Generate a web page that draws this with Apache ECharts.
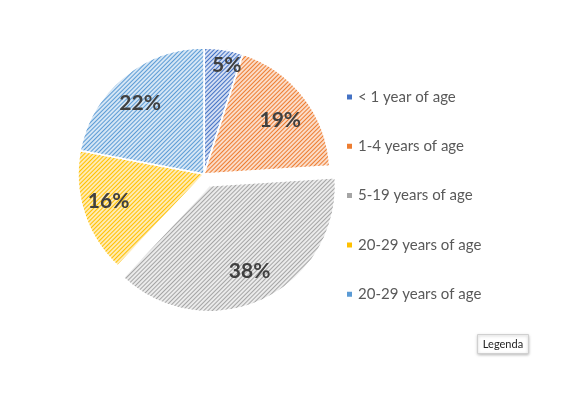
<!DOCTYPE html>
<html><head><meta charset="utf-8">
<script src="https://cdn.jsdelivr.net/npm/echarts@6/dist/echarts.min.js"></script>
<style>html,body{margin:0;padding:0;background:#fff}#c{width:579px;height:394px}</style>
</head><body><div id="c"></div>
<script>
const categories = ['< 1 year of age','1-4 years of age','5-19 years of age','20-29 years of age','20-29 years of age '];
const values = [5, 19, 38, 16, 22];
const colors = ['#4472C4','#ED7D31','#A5A5A5','#FFC000','#5B9BD5'];
const lightColors = ['#d3def3','#fbdcc8','#ebebeb','#ffebb3','#d5e6f5'];
const explodedIndex = 2;
// small label nudges (Excel-like label placement)
const labelNudges = [[8,-16],[2,4],[8,-8],[-6,-2],[-4,2]];

const chart = echarts.init(document.getElementById('c'), null, {renderer:'canvas'});
const C = [204, 174], R = 126;
const data = values.map((v,i)=>({
  name: categories[i], value: v,
  selected: i===explodedIndex,
  itemStyle: {
    color: lightColors[i],
    decal: {symbol:'rect', symbolSize:1, dashArrayX:[1,0], dashArrayY:[1,1.2], rotation: -Math.PI/4, color: colors[i]}
  }
}));
const labelData = values.map((v,i)=>({name: categories[i], value: v, selected: i===explodedIndex, label:{offset: labelNudges[i]}}));
chart.setOption({
  animation:false,
  legend:{
    orient:'vertical', left:345, top:89, padding:0, itemWidth:7, itemHeight:7, icon:'rect', itemGap:33.3,
    textStyle:{fontFamily:'Lato', fontSize:15, color:'#595959', lineHeight:16},
    data: categories.map((n,i)=>({name:n, itemStyle:{color:colors[i], decal:'none'}}))
  },
  series:[{
    type:'pie', center:C, radius:[0,R], startAngle:90, clockwise:true,
    selectedMode:'single', selectedOffset:13,
    itemStyle:{borderColor:'#fff', borderWidth:1.5},
    label:{show:false}, labelLine:{show:false},
    emphasis:{disabled:true}, silent:true,
    data: data
  },{
    type:'pie', center:C, radius:[56,R], startAngle:90, clockwise:true,
    selectedMode:'single', selectedOffset:13, silent:true,
    itemStyle:{color:'rgba(0,0,0,0)', borderWidth:0},
    emphasis:{disabled:true}, legendHoverLink:false,
    label:{show:true, position:'inside', formatter: p=>p.value+'%', fontFamily:'Lato', fontWeight:'bold', fontSize:21, color:'#404040'},
    labelLine:{show:false},
    data: labelData
  }],
  graphic:[{
    type:'group', left:477, top:334,
    children:[
      {type:'rect', shape:{x:0,y:0,width:51,height:19}, style:{fill:'#fff', stroke:'#d0d0d0', lineWidth:1, shadowBlur:3, shadowColor:'rgba(0,0,0,0.25)', shadowOffsetY:1}},
      {type:'text', x:25.5, y:9.5, style:{text:'Legenda', fontFamily:'Lato', fontSize:11, fill:'#222', align:'center', verticalAlign:'middle'}}
    ]
  }]
});
</script></body></html>
